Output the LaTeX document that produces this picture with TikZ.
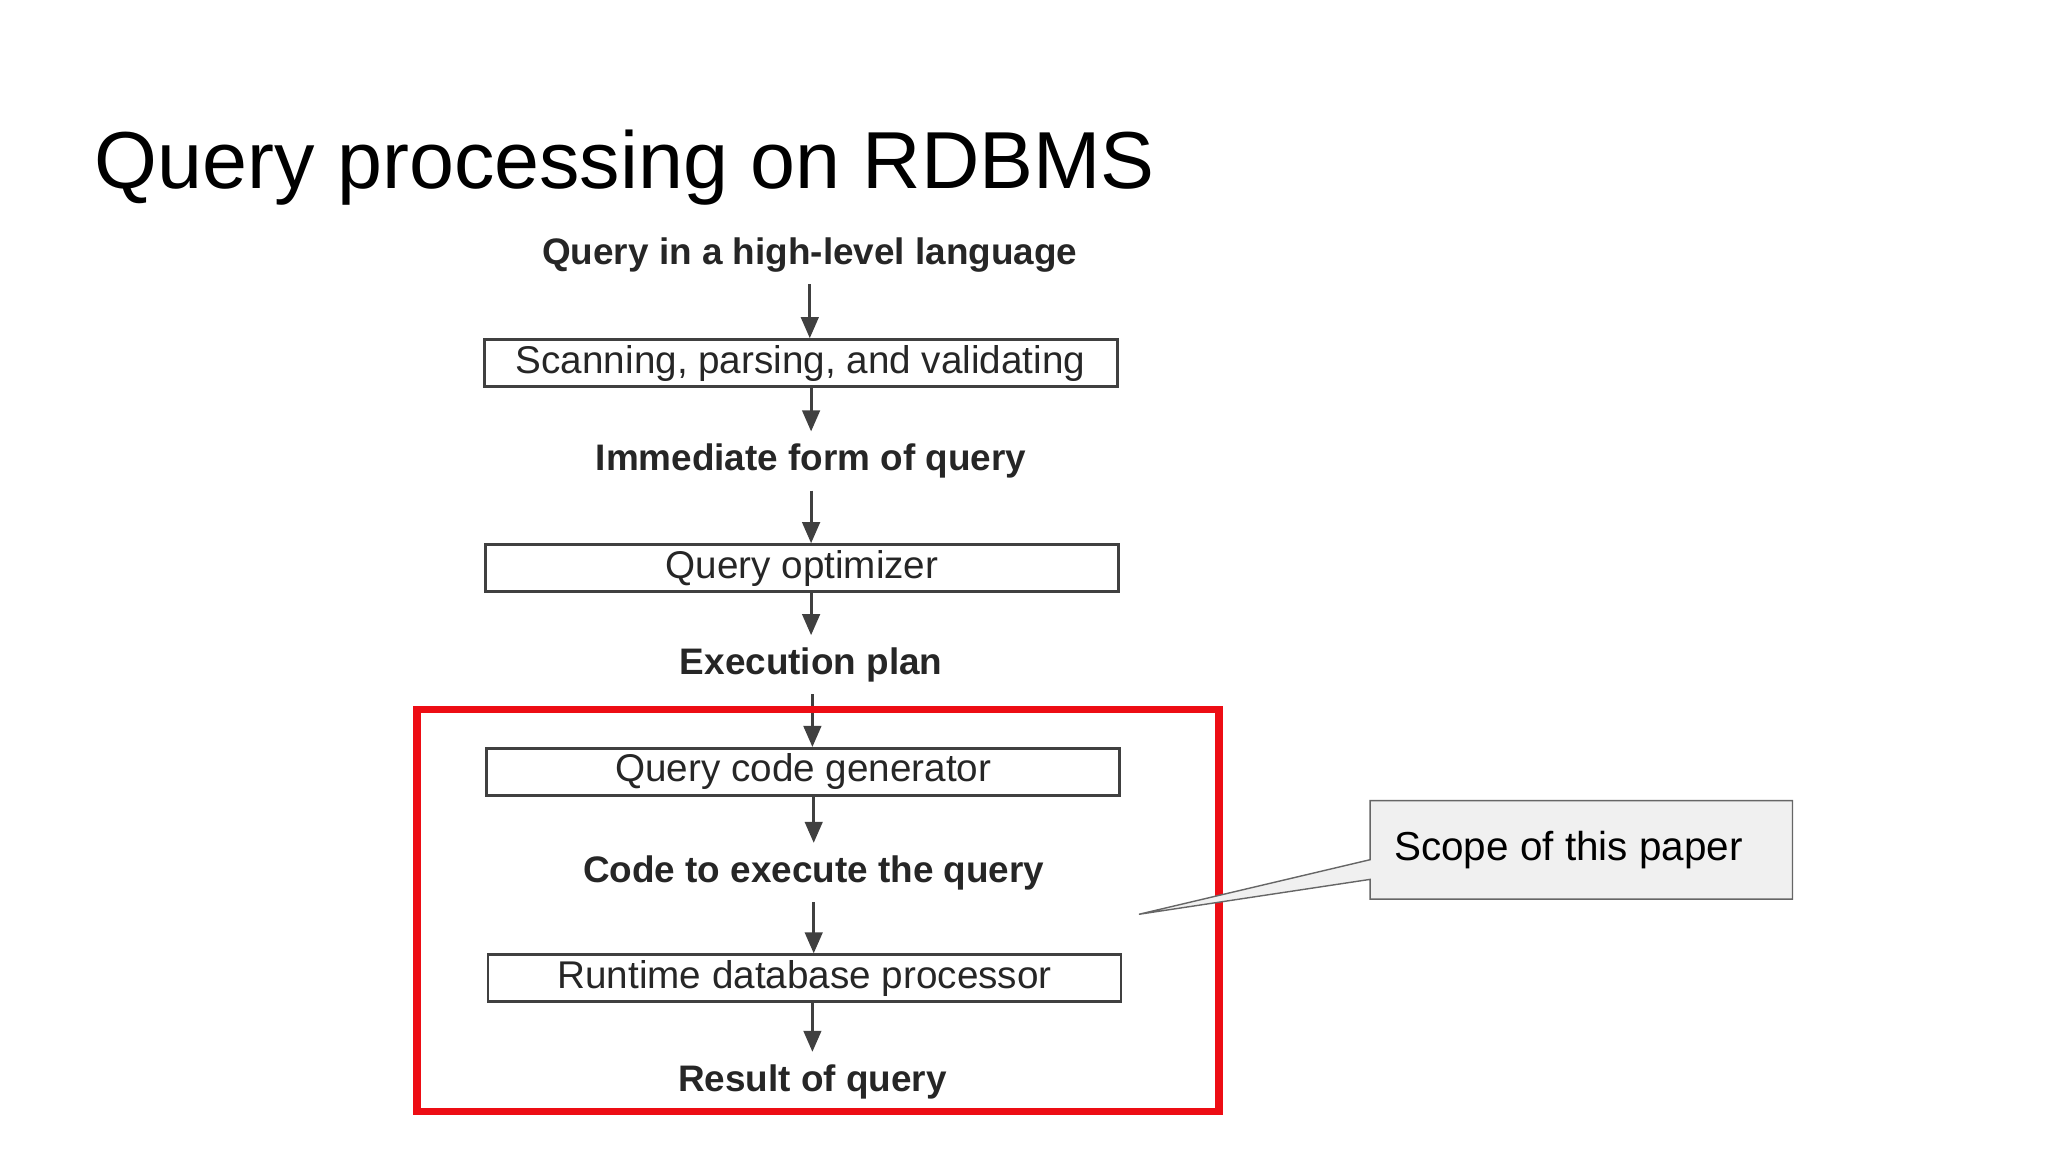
\documentclass[tikz,border=0pt]{standalone}
\usepackage{fontspec}
\setmainfont{Liberation Sans}
\usetikzlibrary{arrows.meta, positioning, calc}
\definecolor{boxline}{rgb}{0.25, 0.25, 0.25}
\definecolor{scopered}{rgb}{0.93, 0.05, 0.08}
\definecolor{calloutgray}{rgb}{0.94, 0.94, 0.94}
\tikzset{
  stage/.style={font=\bfseries\fontsize{10.5}{12}\selectfont, text=black!85},
  stepbox/.style={draw=boxline, thick, minimum width=6.33cm, minimum height=0.47cm, inner sep=0pt, font=\fontsize{11}{13}\selectfont, text=black!85},
  flow/.style={-{Triangle[length=6pt, width=5pt]}, thick, color=boxline}
}
\begin{document}
\begin{tikzpicture}[x=0.013064cm, y=-0.013064cm]
        \useasboundingbox (0,0) rectangle (1568,882);

        \node [anchor=west, font=\fontsize{23}{27}\selectfont] (title) at (63, 128) {Query processing on RDBMS};

        \node [stage]   (La) at (620, 195) {Query in a high-level language};
        \node [stepbox] (Ba) at (613, 278) {Scanning, parsing, and validating};
        \node [stage]   (Lb) at (621, 353) {Immediate form of query};
        \node [stepbox] (Bb) at (614, 435) {Query optimizer};
        \node [stage]   (Lc) at (621, 509) {Execution plan};
        \node [stepbox] (Bc) at (615, 591) {Query code generator};
        \node [stage]   (Ld) at (623, 668) {Code to execute the query};
        \node [stepbox] (Bd) at (616, 749) {Runtime database processor};
        \node [stage]   (Le) at (622, 828) {Result of query};

        \draw [flow] (La.south -| 620,0) -- (Ba.north -| 620,0);
        \draw [flow] (Ba.south -| 621,0) -- (Lb.north -| 621,0);
        \draw [flow] (Lb.south -| 621,0) -- (Bb.north -| 621,0);
        \draw [flow] (Bb.south -| 621,0) -- (Lc.north -| 621,0);
        \draw [flow] (Lc.south -| 622,0) -- (Bc.north -| 622,0);
        \draw [flow] (Bc.south -| 623,0) -- (Ld.north -| 623,0);
        \draw [flow] (Ld.south -| 623,0) -- (Bd.north -| 623,0);
        \draw [flow] (Bd.south -| 622,0) -- (Le.north -| 622,0);

        \node [draw=scopered, line width=2.2pt, minimum width=8.02cm, minimum height=4.02cm] (scope) at (626, 697) {};

        \coordinate (tip) at (872, 700);
        \node [anchor=north west, minimum width=4.21cm, minimum height=0.97cm] (note) at (1049, 613) {};
        \draw [draw=black!60, fill=calloutgray] (note.north west) -- (note.north east) -- (note.south east) -- (note.south west)
            -- ($(note.south west)!0.2!(note.north west)$) -- (tip) -- ($(note.south west)!0.4!(note.north west)$) -- cycle;
        \node [anchor=west, font=\fontsize{11.5}{14}\selectfont] (notetext) at (1058, 651) {Scope of this paper};
\end{tikzpicture}
\end{document}
